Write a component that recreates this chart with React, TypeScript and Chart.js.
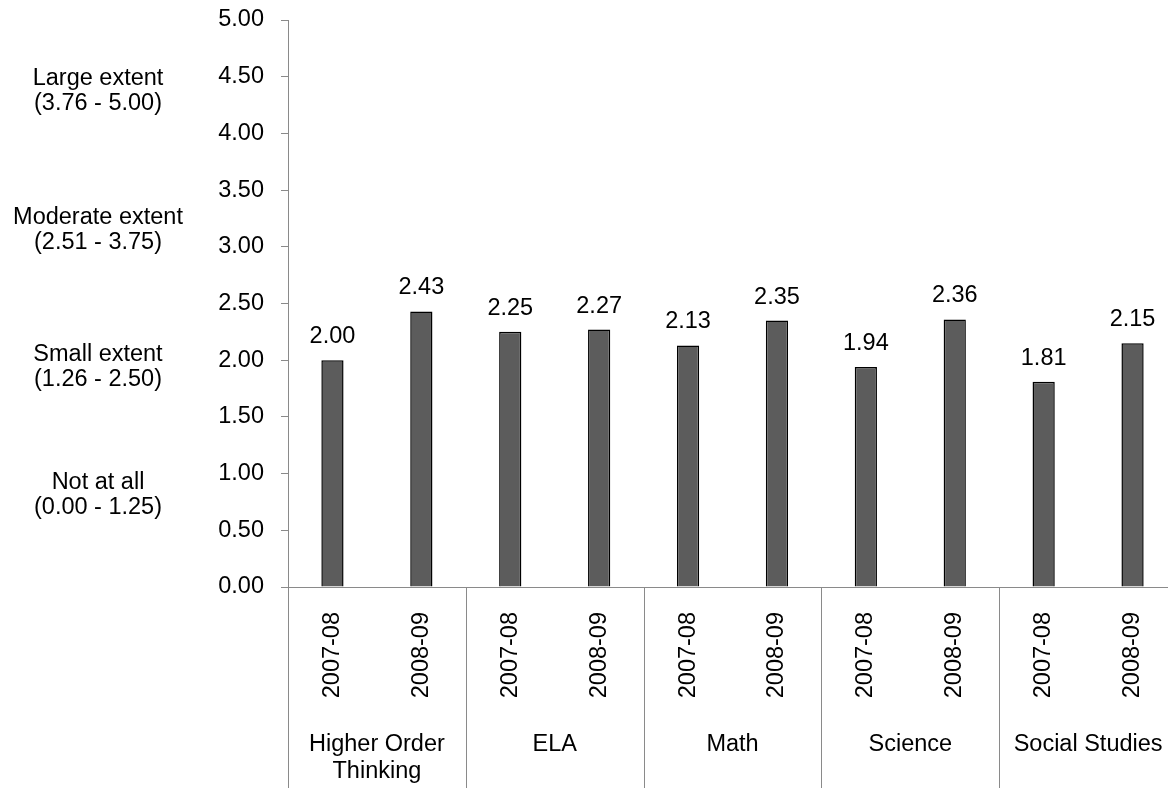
import React, { useEffect, useRef } from "react";
import { Chart, registerables } from "chart.js";

Chart.register(...registerables);

// Survey years shown under each bar, repeated for every subject
const yearLabels = ["2007-08", "2008-09", "2007-08", "2008-09", "2007-08", "2008-09", "2007-08", "2008-09", "2007-08", "2008-09"];
// Subject groups (two bars each), split into text lines
const subjectGroups = [["Higher Order", "Thinking"], ["ELA"], ["Math"], ["Science"], ["Social Studies"]];
// Mean rating per bar
const meanRatings = [2.0, 2.43, 2.25, 2.27, 2.13, 2.35, 1.94, 2.36, 1.81, 2.15];
// Rating scale bands written to the left of the value axis
const ratingBands = [
  ["Large extent", "(3.76 - 5.00)"],
  ["Moderate extent", "(2.51 - 3.75)"],
  ["Small extent", "(1.26 - 2.50)"],
  ["Not at all", "(0.00 - 1.25)"],
];
// Value-axis positions where each band's caption is centred
const ratingBandAnchors = [4.37, 3.15, 1.94, 0.81];

const FONT = "'Liberation Sans', Arial, sans-serif";
const FONT_SIZE = 23.5;
const AXIS_GREY = "#8a8a8a";
const CANVAS_W = 1177;
const CANVAS_H = 788;

const decorations = {
  id: "decorations",
  afterDatasetsDraw(chart: any) {
    const ctx = chart.ctx;
    const meta = chart.getDatasetMeta(0);
    ctx.save();
    ctx.fillStyle = "#000";
    ctx.font = `${FONT_SIZE}px ${FONT}`;
    ctx.textAlign = "center";
    ctx.textBaseline = "alphabetic";
    meta.data.forEach((bar: any, i: number) => {
      ctx.fillText(meanRatings[i].toFixed(2), bar.x, bar.y - 17);
    });
    ctx.restore();
  },
  afterDraw(chart: any) {
    const ctx = chart.ctx;
    const x = chart.scales.x;
    const y = chart.scales.y;
    const area = chart.chartArea;
    ctx.save();
    ctx.strokeStyle = AXIS_GREY;
    ctx.lineWidth = 1;

    // left frame line continues under the value axis
    const left = Math.round(area.left) + 0.5;
    ctx.beginPath();
    ctx.moveTo(left, area.bottom);
    ctx.lineTo(left, CANVAS_H);
    ctx.stroke();

    // separators between subject groups
    for (let g = 1; g < subjectGroups.length; g++) {
      const px = Math.round((x.getPixelForValue(2 * g - 1) + x.getPixelForValue(2 * g)) / 2) + 0.5;
      ctx.beginPath();
      ctx.moveTo(px, area.bottom);
      ctx.lineTo(px, CANVAS_H);
      ctx.stroke();
    }

    // subject names
    ctx.fillStyle = "#000";
    ctx.font = `${FONT_SIZE}px ${FONT}`;
    ctx.textAlign = "center";
    ctx.textBaseline = "middle";
    subjectGroups.forEach((lines, g) => {
      const cx = (x.getPixelForValue(2 * g) + x.getPixelForValue(2 * g + 1)) / 2;
      lines.forEach((line, k) => ctx.fillText(line, cx, 745 + k * 27));
    });

    // rating band captions
    ratingBands.forEach((lines, b) => {
      const cy = y.getPixelForValue(ratingBandAnchors[b]);
      lines.forEach((line, k) => ctx.fillText(line, 98, cy + (k - 0.5) * 25));
    });
    ctx.restore();
  },
};

export default function App() {
  const canvasRef = useRef<HTMLCanvasElement | null>(null);

  useEffect(() => {
    const canvas = canvasRef.current;
    if (!canvas) return;
    const chart = new Chart(canvas, {
      type: "bar",
      data: {
        labels: yearLabels,
        datasets: [
          {
            data: meanRatings,
            backgroundColor: "#5c5c5c",
            borderColor: "#000000",
            borderWidth: 1.5,
            barPercentage: 0.25,
            categoryPercentage: 1,
          },
        ],
      },
      options: {
        responsive: false,
        animation: false,
        layout: { padding: { top: 20, left: 0, right: 0, bottom: 0 } },
        plugins: { legend: { display: false }, tooltip: { enabled: false } },
        scales: {
          x: {
            offset: true,
            grid: { display: false },
            border: { display: true, color: AXIS_GREY, width: 1 },
            ticks: {
              color: "#000",
              font: { family: FONT, size: FONT_SIZE },
              minRotation: 90,
              maxRotation: 90,
              autoSkip: false,
              padding: 17,
            },
            afterFit(scale: any) {
              scale.height = 201;
              scale.paddingLeft = 0;
              scale.paddingRight = 0;
            },
          },
          y: {
            min: 0,
            max: 5,
            ticks: {
              stepSize: 0.5,
              color: "#000",
              font: { family: FONT, size: FONT_SIZE },
              padding: 17,
              callback: (v: any) => Number(v).toFixed(2),
            },
            grid: {
              drawOnChartArea: false,
              drawTicks: true,
              tickLength: 7,
              color: AXIS_GREY,
            },
            border: { display: true, color: AXIS_GREY, width: 1 },
            afterFit(scale: any) {
              scale.width = 288;
              scale.paddingTop = 0;
              scale.paddingBottom = 0;
            },
          },
        },
      },
      plugins: [decorations],
    });
    return () => chart.destroy();
  }, []);

  return (
    <div style={{ position: "fixed", left: 0, top: 0, width: 1168, height: CANVAS_H, overflow: "hidden", background: "#fff" }}>
      <canvas ref={canvasRef} width={CANVAS_W} height={CANVAS_H} style={{ display: "block" }} />
    </div>
  );
}
